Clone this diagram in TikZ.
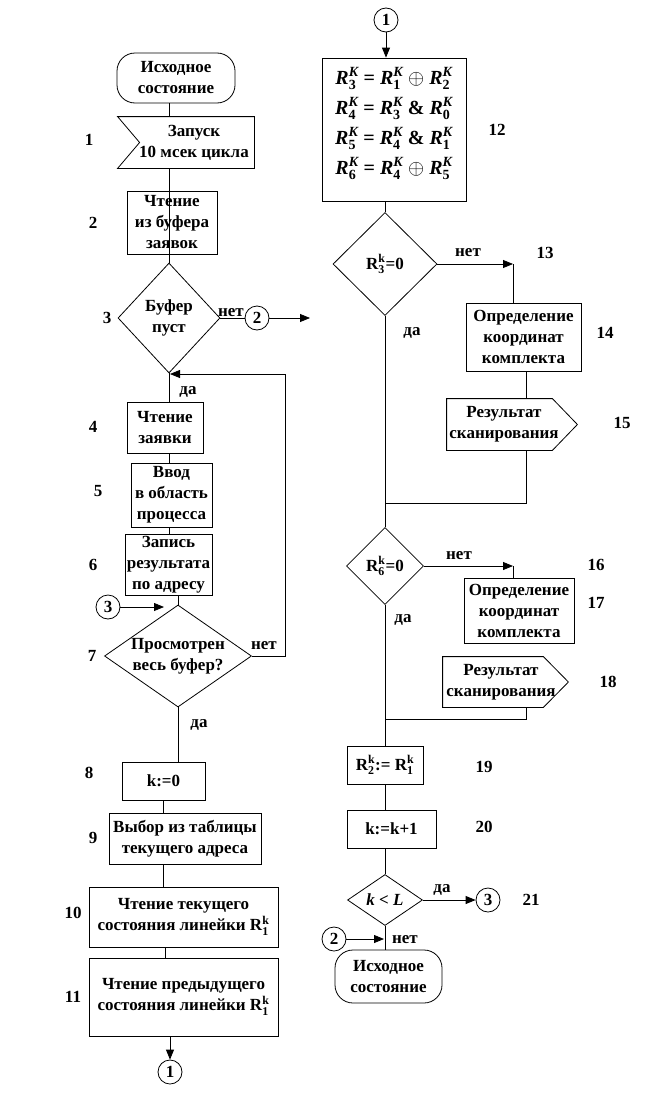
\documentclass[tikz,border=0pt]{standalone}
\usepackage{fontspec}
\setmainfont{Liberation Serif}
\usepackage{amsmath}
\usetikzlibrary{arrows.meta,shapes.geometric}
\newcommand{\Rf}[1]{\textit{R}$^{\text{\itshape K}}_{\text{#1}}$}
\newcommand{\Rk}[1]{R$^{\text{k}}_{\text{#1}}$}
\begin{document}
\begin{tikzpicture}[x=1pt,y=-1pt,
  every node/.style={font=\fontsize{17}{21}\selectfont\bfseries, inner sep=0pt, text=black},
  every label/.style={align=center},
  line width=0.8pt,
  box/.style n args={2}{draw, rectangle, minimum width=#1, minimum height=#2},
  ghost/.style n args={2}{rectangle, minimum width=#1, minimum height=#2},
  dia/.style n args={2}{draw, diamond, minimum width=#1, minimum height=#2},
  term/.style n args={2}{draw, rectangle, rounded corners=18pt, minimum width=#1, minimum height=#2},
  conn/.style={draw, circle, minimum size=24pt},
  arr/.style={-{Triangle[length=10pt,width=8pt]}},
  formula/.style={font=\fontsize{20}{27}\selectfont\bfseries}]
\fill[white] (0,0) rectangle (649,1100);
\useasboundingbox (0,0) rectangle (649,1100);

% ---------- left column ----------
\node[term={118}{50}, label={center:Исходное\\состояние}] (t1) at (176,78) {};
\node[ghost={136}{51}] (b1) at (186,142.5) {};
\draw (b1.north west) -- (b1.north east) -- (b1.south east) -- (b1.south west) -- ([xshift=22pt]b1.west) -- cycle;
\node[align=center] (b1t) at (194,142.5) {Запуск\\10 мсек цикла};
\node[box={90}{63}, label={center:Чтение\\из буфера\\заявок}] (b2) at (172,222.5) {};
\node[dia={102}{110}, label={center:Буфер\\пуст}] (d3) at (169,318) {};
\node[conn] (c2a) at (257,318) {2};
\coordinate (o2) at (310,318);
\node[box={76}{51}, label={center:Чтение\\заявки}] (b4) at (165,427.5) {};
\node[box={81}{64}, label={center:Ввод\\в область\\процесса}] (b5) at (171.5,495) {};
\node[box={87}{61}, label={center:Запись\\результата\\по адресу}] (b6) at (168.5,564.5) {};
\node[conn] (c3a) at (108,607) {3};
\coordinate (e3) at (164,607);
\node[dia={147}{102}, label={center:Просмотрен\\весь буфер?}] (d7) at (178,656) {};
\coordinate (lp) at (285,374);
\coordinate (lpe) at (170,374);
\node[box={83}{38}, label={center:k:=0}] (b8) at (163.5,781) {};
\node[box={152}{51}, label={center:Выбор из таблицы\\текущего адреса}] (b9) at (185,838.5) {};
\node[box={189}{60}, label={center:Чтение текущего\\состояния линейки \Rk{1}}] (b10) at (183.5,917) {};
\node[box={189}{78}, label={center:Чтение предыдущего\\состояния линейки \Rk{1}}] (b11) at (183.5,997) {};
\node[conn] (c1b) at (170,1072) {1};

% numbers left
\node (n1) at (89,140) {1};
\node (n2) at (93,223) {2};
\node (n3) at (107,318) {3};
\node (n4) at (93,427) {4};
\node (n5) at (98,491) {5};
\node (n6) at (93,565) {6};
\node (n7) at (92,656) {7};
\node (n8) at (89,773) {8};
\node (n9) at (93,838) {9};
\node (n10) at (73,913) {10};
\node (n11) at (73,997) {11};

% labels left
\node (l3n) at (231,313) {нет};
\node (l3d) at (188,392) {да};
\node (l7n) at (264,646) {нет};
\node (l7d) at (199,725) {да};

% connectors left
\draw (t1.south -| d3) -- (b1.north -| d3);
\draw (b1.south -| d3) -- (b2.south -| d3);
\draw (b2.south -| d3) -- (d3.north);
\draw (d3.east) -- (c2a.west);
\draw[arr] (c2a.east) -- (o2);
\draw (d3.south) -- (d3.south |- b4.north);
\draw (b4.south -| d3) -- (b5.north -| d3);
\draw (b5.south -| d3) -- (b6.north -| d3);
\draw (b6.south -| d7) -- (d7.north);
\draw[arr] (c3a.east) -- (e3);
\draw[arr] (d7.east) -| (lp) -- (lpe);
\draw (d7.south) -- (d7.south |- b8.north);
\draw (b8.south) -- (b8.south |- b9.north);
\draw (b8.south |- b9.south) -- (b8.south |- b10.north);
\draw ([xshift=2pt]b8.south |- b10.south) -- ([xshift=2pt]b8.south |- b11.north);
\draw[arr] (b11.south -| c1b) -- (c1b.north);

% ---------- right column ----------
\node[conn] (c1a) at (386,20) {1};
\node[box={144}{143}, label={[formula, yshift=6pt]center:\Rf{3} = \Rf{1} $\oplus$ \Rf{2}\\[3pt]\Rf{4} = \Rf{3} \& \Rf{0}\\[3pt]\Rf{5} = \Rf{4} \& \Rf{1}\\[3pt]\Rf{6} = \Rf{4} $\oplus$ \Rf{5}}] (b12) at (394,129.5) {};
\node[dia={104}{103}, label={center:\Rk{3}=0}] (d13) at (385,264) {};
\coordinate (j13) at (513,264);
\node[box={115}{68}, label={center:Определение\\координат\\комплекта}] (b14) at (523.5,337) {};
\coordinate (x526) at (526,0);
\node[ghost={130}{51}] (o15) at (512,424.5) {};
\draw (o15.north west) -- ([xshift=-25pt]o15.north east) -- (o15.east) -- ([xshift=-25pt]o15.south east) -- (o15.south west) -- cycle;
\node[align=center] (o15t) at (504,424.5) {Результат\\сканирования};
\coordinate (m1) at (385,503);
\node[dia={77}{77}, label={center:\Rk{6}=0}] (d16) at (385,566) {};
\coordinate (j16) at (513,566);
\node[box={110}{65}, label={center:Определение\\координат\\комплекта}] (b17) at (519,610.5) {};
\node[ghost={125}{50}] (o18) at (505.5,682) {};
\draw (o18.north west) -- ([xshift=-25pt]o18.north east) -- (o18.east) -- ([xshift=-25pt]o18.south east) -- (o18.south west) -- cycle;
\node[align=center] (o18t) at (501,682) {Результат\\сканирования};
\coordinate (m2) at (385,719);
\node[box={76}{38}, label={center:R$^{\text{k}}_{\text{2}}$:= \Rk{1}}] (b19) at (385,765) {};
\node[box={89}{38}, label={center:k:=k+1}] (b20) at (391.5,829) {};
\node[dia={75}{51}, label={center:\textit{k} < \textit{L}}] (d21) at (385,900) {};
\node[conn] (c3b) at (488,900) {3};
\node[conn] (c2b) at (334,939) {2};
\coordinate (e2) at (384,939);
\node[term={107}{53}, label={center:Исходное\\состояние}] (t2) at (388.5,976.5) {};

% numbers right
\node (n12) at (497,130) {12};
\node (n13) at (545,253) {13};
\node (n14) at (605,333) {14};
\node (n15) at (622,423) {15};
\node (n16) at (596,565) {16};
\node (n17) at (596,603) {17};
\node (n18) at (608,682) {18};
\node (n19) at (484,767) {19};
\node (n20) at (484,827) {20};
\node (n21) at (531,900) {21};

% labels right
\node (l13n) at (468,253) {нет};
\node (l13d) at (412,333) {да};
\node (l16n) at (459,556) {нет};
\node (l16d) at (403,620) {да};
\node (l21d) at (442,890) {да};
\node (l21n) at (405,940) {нет};

% connectors right
\draw[arr] (c1a.south) -- (c1a.south |- b12.north);
\draw (b12.south -| d13) -- (d13.north);
\draw[arr] (d13.east) -- (j13);
\draw (j13 |- b14.north) -- (j13);
\draw (b14.south -| x526) -- (o15.north -| x526);
\draw (o15.south -| x526) -- (x526 |- m1) -- (m1);
\draw (d13.south) -- (d16.north);
\draw[arr] (d16.east) -- (j16);
\draw (j16 |- b17.north) -- (j16);
\draw (o18.south -| x526) -- (x526 |- m2) -- (m2);
\draw (d16.south) -- (d16.south |- b19.north);
\draw (b19.south) -- (b19.south |- b20.north);
\draw (b19.south |- b20.south) -- (d21.north);
\draw[arr] (d21.east) -- (c3b.west);
\draw (d21.south) -- (d21.south |- t2.north);
\draw[arr] (c2b.east) -- (e2);
\end{tikzpicture}
\end{document}
